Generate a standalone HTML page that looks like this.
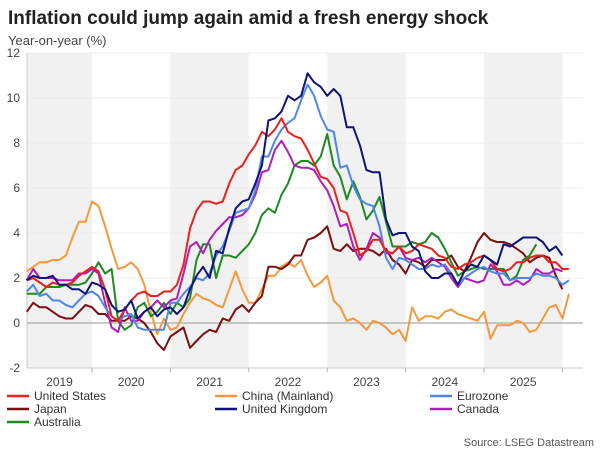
<!DOCTYPE html>
<html><head><meta charset="utf-8"><style>
body{margin:0;background:#fff;font-family:"Liberation Sans",sans-serif;}
#wrap{position:relative;width:600px;height:450px;overflow:hidden}
</style></head><body>
<div id="wrap">
<svg id="svg" width="600" height="450" xmlns="http://www.w3.org/2000/svg" font-family="Liberation Sans, sans-serif">
<text x="8" y="24" font-size="19" font-weight="bold" fill="#222">Inflation could jump again amid a fresh energy shock</text>
<text x="8" y="45" font-size="13" fill="#444">Year-on-year (%)</text>
<g id="bands"></g><g id="grid"></g><g id="series"></g><g id="legend"></g>
<text x="594" y="446" font-size="11" fill="#555" text-anchor="end">Source: LSEG Datastream</text>
</svg>
</div>
<script>
const years=["2019","2020","2021","2022","2023","2024","2025"];
const yTicks=[-2,0,2,4,6,8,10,12];
const names=["United States","China (Mainland)","Eurozone","Japan","United Kingdom","Canada","Australia"];
const colors=["#e8231f","#f5993d","#4f86e8","#7b1010","#10137a","#b01eb9","#1e8a22"];
const us=[1.9,2.0,1.8,1.6,1.8,1.7,1.7,1.8,2.1,2.3, 2.5,2.3,1.5,0.3,0.1,0.6,1.0,1.3,1.4,1.2,1.2,1.4, 1.4,1.7,2.6,4.2,5.0,5.4,5.4,5.3,5.4,6.2,6.8,7.0, 7.5,7.9,8.5,8.3,8.6,9.1,8.5,8.3,8.2,7.7,7.1,6.5, 6.4,6.0,5.0,4.9,4.0,3.0,3.2,3.7,3.7,3.2,3.1,3.4, 3.1,3.2,3.5,3.4,3.3,3.0,2.9,2.5,2.4,2.6,2.7,2.9, 3.0,2.8,2.4,2.3,2.4,2.7,2.7,2.9,3.0,3.0,2.7,2.7, 2.4,2.4];
const china=[2.3,2.5,2.7,2.7,2.8,2.8,3.0,3.8,4.5,4.5, 5.4,5.2,4.3,3.3,2.4,2.5,2.7,2.4,1.7,0.5,-0.5,0.2, -0.3,-0.2,0.4,0.9,1.3,1.1,1.0,0.8,0.7,1.5,2.3,1.5, 0.9,0.9,1.5,2.1,2.1,2.5,2.7,2.5,2.8,2.1,1.6,1.8, 2.1,1.0,0.7,0.1,0.2,0.0,-0.3,0.1,0.0,-0.2,-0.5,-0.3, -0.8,0.7,0.1,0.3,0.3,0.2,0.5,0.6,0.4,0.3,0.2,0.1, 0.5,-0.7,-0.1,-0.1,-0.1,0.1,0.0,-0.4,-0.3,0.2,0.7,0.8, 0.2,1.3];
const eurozone=[1.4,1.7,1.2,1.3,1.0,1.0,0.8,0.7,1.0,1.3, 1.4,1.2,0.7,0.3,0.1,0.3,0.4,-0.2,-0.3,-0.3,-0.3,-0.3, 0.9,0.9,1.3,1.6,2.0,1.9,2.2,3.0,3.4,4.1,4.9,5.0, 5.1,5.9,7.4,7.4,8.1,8.6,8.9,9.1,9.9,10.6,10.1,9.2, 8.6,8.5,6.9,7.0,6.1,5.5,5.3,5.2,4.3,2.9,2.4,2.9, 2.8,2.6,2.4,2.4,2.6,2.5,2.6,2.2,1.7,2.0,2.2,2.4, 2.5,2.3,2.2,2.2,1.9,2.0,2.0,2.0,2.2,2.1,2.1,2.0, 1.7,1.9];
const japan=[0.5,0.9,0.7,0.7,0.5,0.3,0.2,0.2,0.5,0.8, 0.7,0.4,0.4,0.1,0.1,0.1,0.3,0.2,0.0,-0.4,-0.9,-1.2, -0.6,-0.4,-0.2,-1.1,-0.8,-0.5,-0.3,-0.4,0.2,0.1,0.6,0.8, 0.5,0.9,1.2,2.5,2.5,2.4,2.6,3.0,3.0,3.7,3.8,4.0, 4.3,3.3,3.2,3.5,3.2,3.3,3.3,3.2,3.0,3.3,2.8,2.6, 2.2,2.8,2.7,2.5,2.8,2.8,2.8,3.0,2.5,2.3,2.9,3.6, 4.0,3.7,3.6,3.6,3.5,3.3,3.1,2.7,2.9,3.0,2.9,2.1, 1.5];
const uk=[1.9,2.1,2.0,2.0,2.1,1.7,1.7,1.5,1.5,1.3, 1.8,1.7,1.5,0.8,0.5,0.6,1.0,0.2,0.5,0.7,0.3,0.6, 0.7,0.4,0.7,1.5,2.1,2.5,2.0,3.2,3.1,4.2,5.1,5.4, 5.5,6.2,7.0,9.0,9.1,9.4,10.1,9.9,10.1,11.1,10.7,10.5, 10.1,10.4,10.1,8.7,8.7,7.9,6.8,6.7,6.7,4.6,3.9,4.0, 4.0,3.4,3.2,2.3,2.0,2.0,2.2,2.2,1.7,2.3,2.6,2.5, 3.0,2.8,2.6,3.5,3.4,3.6,3.8,3.8,3.8,3.6,3.2,3.4, 3.0];
const canada=[1.9,2.4,2.0,2.0,2.0,1.9,1.9,1.9,2.2,2.2, 2.4,2.2,0.9,-0.2,-0.4,0.7,0.1,0.1,0.5,0.7,1.0,0.7, 1.0,1.1,2.2,3.4,3.6,3.1,3.7,4.1,4.4,4.7,4.7,4.8, 5.1,5.7,6.7,6.8,7.7,8.1,7.6,7.0,6.9,6.9,6.8,6.3, 5.9,5.2,4.3,4.4,3.4,2.8,3.3,4.0,3.8,3.1,3.1,3.4, 2.9,2.8,2.9,2.7,2.9,2.7,2.5,2.0,1.6,2.0,1.9,1.8, 1.9,2.6,2.3,1.7,1.7,1.9,1.7,1.9,2.4,2.2,2.2,2.4, 2.3];
const australia=[1.3,1.3,1.3,1.6,1.6,1.6,1.7,1.7,1.7,1.8, 2.2,2.7,2.2,2.4,0.1,-0.3,-0.1,0.7,0.9,0.3,0.5,0.9, 0.4,0.9,0.7,1.1,2.8,3.5,3.5,2.0,3.0,3.0,2.9,3.2, 3.5,4.0,4.8,5.1,4.9,5.7,6.2,7.0,7.2,7.2,7.0,7.4, 8.4,7.0,6.5,5.5,6.3,5.6,4.6,5.0,5.6,4.5,3.4,3.4, 3.4,3.6,3.5,3.6,4.0,3.8,3.3,2.7,2.1,2.3,2.4,2.5, 2.4,2.4,2.4,2.4,1.9,2.1,2.8,3.0,3.5];
const allSeries=[us,china,eurozone,japan,uk,canada,australia];

const NS="http://www.w3.org/2000/svg";
const L=27,R=583,T=53,B=368,yMin=-2,yMax=12;
const yearStart=92-78.4, yearW=78.4;
const xMonth=i=>yearStart+(i+2)*yearW/12;
const yS=v=>B-(v-yMin)/(yMax-yMin)*(B-T);
function mk(tag,attrs,parent){const e=document.createElementNS(NS,tag);for(const k in attrs)e.setAttribute(k,attrs[k]);parent.appendChild(e);return e;}
const bands=document.getElementById('bands'),grid=document.getElementById('grid'),ser=document.getElementById('series'),leg=document.getElementById('legend');
years.forEach((y,k)=>{
  const x0=Math.max(L,yearStart+k*yearW),x1=yearStart+(k+1)*yearW;
  if(k%2===0){const r=mk('rect',{x:x0,y:T,width:x1-x0,height:B-T,fill:'#f1f1f1'},bands);
  
  }
  const t=mk('text',{x:(x0+x1)/2,y:386,'font-size':12,fill:'#444','text-anchor':'middle'},grid);t.textContent=y;
  
  
  const tk=mk('line',{x1:x1,x2:x1,y1:B,y2:B+4,stroke:'#aaa'},grid);
  
  
});
yTicks.forEach(v=>{
  const y=yS(v);
  const g=mk('line',{x1:L,x2:R,y1:y,y2:y,stroke:v===0?'#aaa':'#ececec','stroke-width':v===0?1.2:1},grid);
  
  
  const t=mk('text',{x:20,y:y+4,'font-size':12,fill:'#444','text-anchor':'end'},grid);t.textContent=v;
  
  
});
mk('line',{x1:L,x2:L,y1:T,y2:B,stroke:'#ccc'},grid);
mk('line',{x1:L,x2:R,y1:B,y2:B,stroke:'#ccc'},grid);
const order=[1,3,6,5,2,0,4];
order.forEach(s=>{
  const d=allSeries[s].map((v,i)=>(i?'L':'M')+xMonth(i).toFixed(1)+','+yS(v).toFixed(1)).join('');
  const p=mk('path',{d:d,fill:'none',stroke:colors[s],'stroke-width':2,'stroke-linejoin':'round'},ser);
  
  
});
const lx=[7,215,430],ly=[400,413,426];
names.forEach((n,i)=>{
  const c=i%3,r=Math.floor(i/3);
  const g=mk('g',{},leg);
  
  
  mk('line',{x1:lx[c],x2:lx[c]+22,y1:ly[r]-4,y2:ly[r]-4,stroke:colors[i],'stroke-width':2.5},g);
  const t=mk('text',{x:lx[c]+27,y:ly[r],'font-size':12,fill:'#333'},g);t.textContent=n;
});
</script>
</body></html>
